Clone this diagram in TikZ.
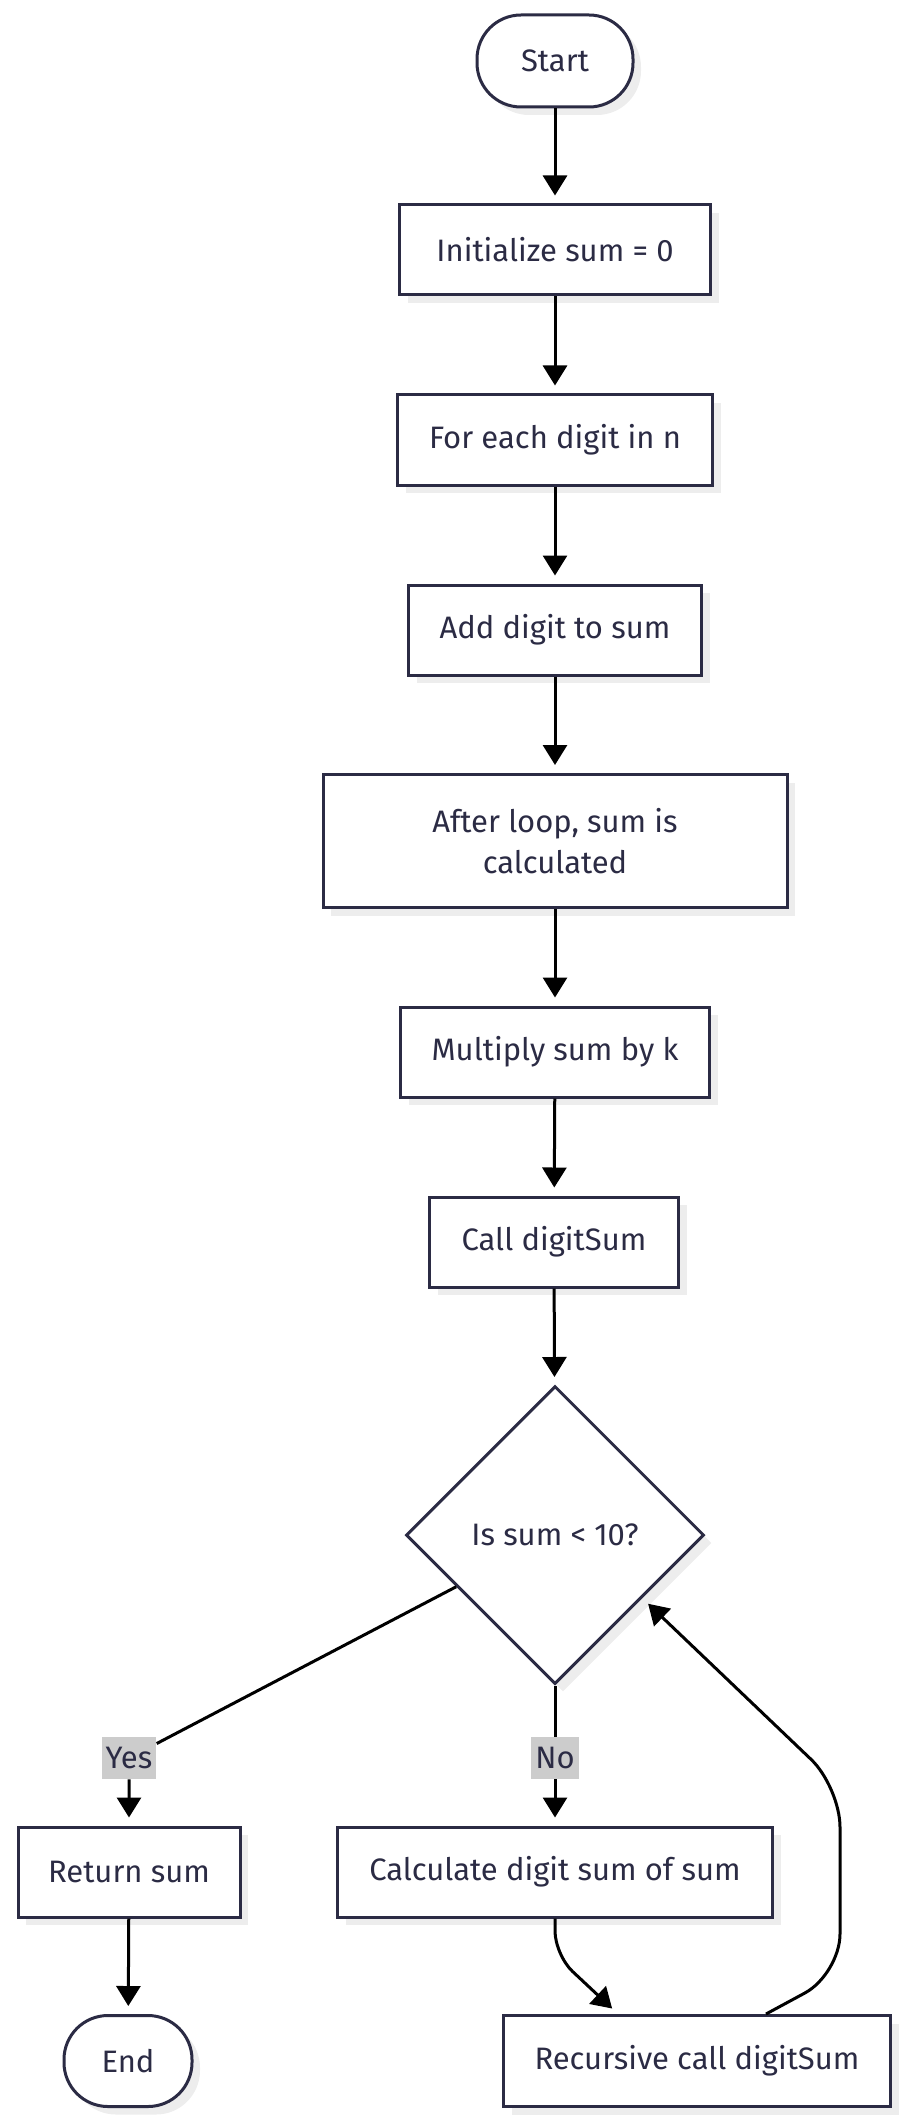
\documentclass[tikz,border=0pt]{standalone}
\usepackage{fontspec}
\setmainfont{Fira Sans}
\usetikzlibrary{shapes.geometric,shadows,arrows.meta,calc}
\definecolor{ink}{HTML}{2B2B44}
\definecolor{tagfill}{HTML}{CCCCCC}

\begin{document}
\begin{tikzpicture}[x=0.5pt,y=-0.5pt,
                every node/.style={text=ink,font=\fontsize{15.5}{20.5}\selectfont},
                box/.style={draw=ink,line width=1.5pt,fill=white,rectangle,minimum height=45pt,align=center,
                    drop shadow={shadow xshift=4pt,shadow yshift=-4pt,fill=black!7,opacity=1}},
                term/.style={box,rounded corners=22pt},
                ask/.style={box,diamond,aspect=1,minimum size=149pt,inner sep=0pt},
                tag/.style={fill=tagfill,inner sep=2pt,minimum height=21pt},
                arr/.style={line width=1.5pt,-{Triangle[width=12pt,length=10pt]},shorten >=4pt}]
                \useasboundingbox (0,0) rectangle (910,2123);
                \node [term,minimum width=78pt,minimum height=46pt] (start) at (555,61) {Start};
                \node [box,minimum width=155.5pt] (init) at (555,250) {Initialize sum = 0};
                \node [box,minimum width=157.5pt] (each) at (555,440) {For each digit in n};
                \node [box,minimum width=146.5pt] (add) at (555,630) {Add digit to sum};
                \node [box,minimum width=232pt,minimum height=66.5pt] (after) at (555,841) {After loop, sum is\\calculated};
                \node [box,minimum width=154.5pt] (mult) at (555,1052) {Multiply sum by k};
                \node [box,minimum width=124.5pt] (call) at (554,1242) {Call digitSum};
                \node [ask] (dec) at (555,1535) {Is sum < 10?};
                \node [tag] (ylab) at (129,1758) {Yes};
                \node [tag] (nlab) at (555,1758) {No};
                \node [box,minimum width=111pt] (ret) at (129,1872) {Return sum};
                \node [box,minimum width=217.5pt] (calc) at (555,1872) {Calculate digit sum of sum};
                \node [term,minimum width=64pt,minimum height=45.5pt] (stop) at (128,2061) {End};
                \node [box,minimum width=193.5pt,minimum height=45.5pt] (rec) at (697,2061) {Recursive call digitSum};
                \coordinate (bend) at (555,1955);
                \coordinate (loopa) at (840,1974);
                \coordinate (loopb) at (840,1787);
                \draw [arr] (start) -- (init);
                \draw [arr] (init) -- (each);
                \draw [arr] (each) -- (add);
                \draw [arr] (add) -- (after);
                \draw [arr] (after) -- (mult);
                \draw [arr] (mult) -- (call);
                \draw [arr] (call) -- (dec);
                \draw [arr] (dec) -- (ylab) -- (ret);
                \draw [arr] (dec) -- (nlab) -- (calc);
                \draw [arr] (ret) -- (stop);
                \draw [arr,rounded corners=12pt] (calc) -- (bend) -- ($(rec.north west)+(116,0)$);
                \draw [arr,rounded corners=20pt] ($(rec.north west)+(264,0)$) -- (loopa) -- (loopb) -- ($(dec.east)!0.42!(dec.south)$);
            \end{tikzpicture}
\end{document}
